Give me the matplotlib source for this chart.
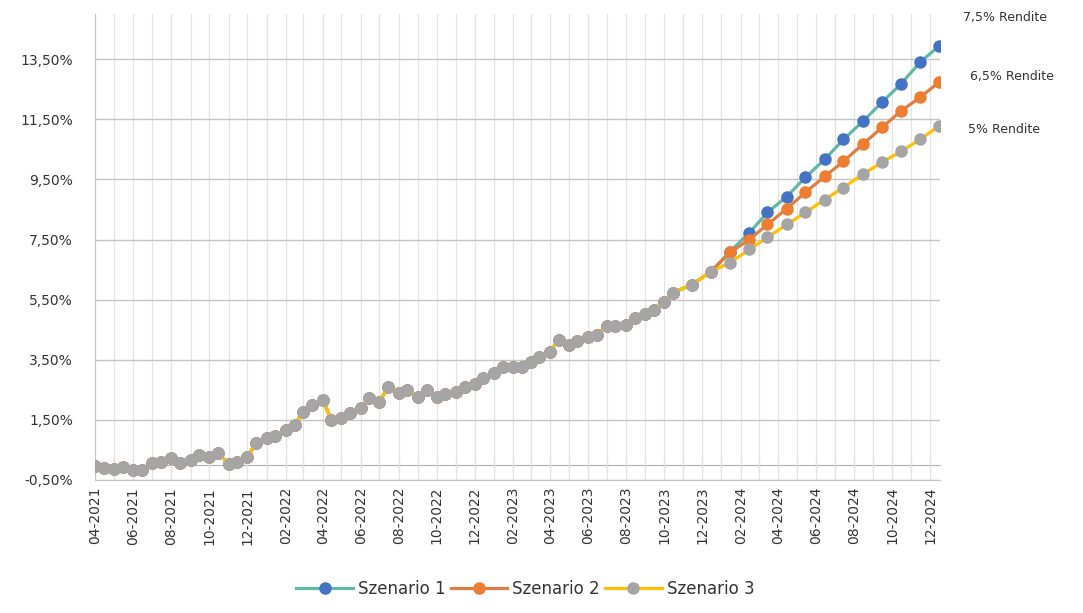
import matplotlib
matplotlib.use("Agg")
import matplotlib.pyplot as plt
import matplotlib.dates as mdates
from matplotlib.ticker import FuncFormatter
import numpy as np
import pandas as pd

# historische Werte (halbmonatlich, 01.04.2021 - 01.10.2023), in %
hist_dates = pd.date_range("2021-04-01", "2023-10-01", freq="SMS")
hist_vals = [-0.05, -0.10, -0.13, -0.07, -0.17, -0.17, 0.07, 0.10, 0.23, 0.07,
             0.17, 0.33, 0.27, 0.40, 0.03, 0.10, 0.27, 0.73, 0.90, 0.97,
             1.17, 1.33, 1.77, 2.00, 2.17, 1.50, 1.57, 1.73, 1.90, 2.23,
             2.10, 2.60, 2.40, 2.50, 2.27, 2.50, 2.27, 2.37, 2.43, 2.60,
             2.70, 2.90, 3.07, 3.27, 3.27, 3.27, 3.43, 3.60, 3.77, 4.17,
             4.00, 4.13, 4.27, 4.33, 4.63, 4.63, 4.67, 4.90, 5.03, 5.17,
             5.43]

# gemeinsame Monatswerte bis Jahresende 2023
common_dates = pd.to_datetime(["2023-10-15", "2023-11-15", "2023-12-15"])
common_vals = [5.73, 6.00, 6.43]

# Szenarien 2024 (Monatsmitte)
proj_dates = pd.to_datetime(["2024-%02d-15" % m for m in range(1, 13)])
szen1 = [7.10, 7.73, 8.40, 8.93, 9.57, 10.17, 10.83, 11.43, 12.07, 12.67, 13.40, 13.93]
szen2 = [7.07, 7.50, 8.00, 8.53, 9.07, 9.60, 10.10, 10.67, 11.23, 11.77, 12.23, 12.73]
szen3 = [6.73, 7.17, 7.57, 8.00, 8.40, 8.83, 9.23, 9.67, 10.07, 10.43, 10.83, 11.27]

names = ["Szenario 1", "Szenario 2", "Szenario 3"]
labels = ["7,5% Rendite", "6,5% Rendite", "5% Rendite"]
line_cols = ["#62b8a4", "#dd7f45", "#ffc000"]
mark_cols = ["#4472c4", "#ed7d31", "#a5a5a5"]
label_off = [(24, 29), (31, 6), (29, -3)]

dates = hist_dates.append(common_dates).append(proj_dates)
base = hist_vals + common_vals

fig = plt.figure(figsize=(10.83, 6.13), dpi=100)
ax = fig.add_axes([0.088, 0.217, 0.78, 0.76])

txtcol = "#333333"
for i, proj in enumerate([szen1, szen2, szen3]):
    vals = base + proj
    ax.plot(dates, vals, color=line_cols[i], lw=2.3, marker="o", ms=8,
            mfc=mark_cols[i], mec=mark_cols[i], label=names[i], zorder=3 + i)
    ax.annotate(labels[i], xy=(dates[-1], vals[-1]), xytext=label_off[i],
                textcoords="offset pixels", fontsize=9, color=txtcol,
                va="center", ha="left", annotation_clip=False)

ax.set_ylim(-0.5, 15.0)
ax.set_xlim(pd.Timestamp("2021-04-01"), pd.Timestamp("2024-12-17"))
ax.set_yticks(np.arange(-0.5, 14, 2))
ax.yaxis.set_major_formatter(FuncFormatter(lambda v, p: ("%.2f" % v).replace(".", ",") + "%"))

ax.xaxis.set_major_locator(mdates.MonthLocator(bymonth=(2, 4, 6, 8, 10, 12)))
ax.xaxis.set_minor_locator(mdates.MonthLocator())
ax.xaxis.set_major_formatter(mdates.DateFormatter("%m-%Y"))
ax.tick_params(axis="x", which="both", length=0, pad=5, labelsize=10,
               labelcolor=txtcol, labelrotation=90)
ax.tick_params(axis="y", length=0, pad=16, labelsize=10, labelcolor=txtcol)

ax.grid(axis="x", which="both", color="#e2e2e2", lw=0.9)
ax.grid(axis="y", color="#c4c4c4", lw=1.0)
ax.set_axisbelow(True)

for s in ["top", "right"]:
    ax.spines[s].set_visible(False)
ax.spines["left"].set_color("#c4c4c4")
ax.spines["bottom"].set_color("#c4c4c4")

# Kategorieachse bei 0 mit Teilstrichen
sec = ax.secondary_xaxis(0.5 / 15.5)
sec.xaxis.set_major_locator(mdates.MonthLocator())
sec.tick_params(axis="x", direction="inout", length=9, color="#b0b0b0",
                labelbottom=False)
sec.spines["bottom"].set_color("#b0b0b0")

fig.legend(loc="lower center", bbox_to_anchor=(0.485, 0.0), ncol=3, frameon=False,
           fontsize=12, handlelength=3.4, columnspacing=0.3, handletextpad=0.3,
           labelcolor=txtcol)

fig.savefig("out.png", dpi=100)
